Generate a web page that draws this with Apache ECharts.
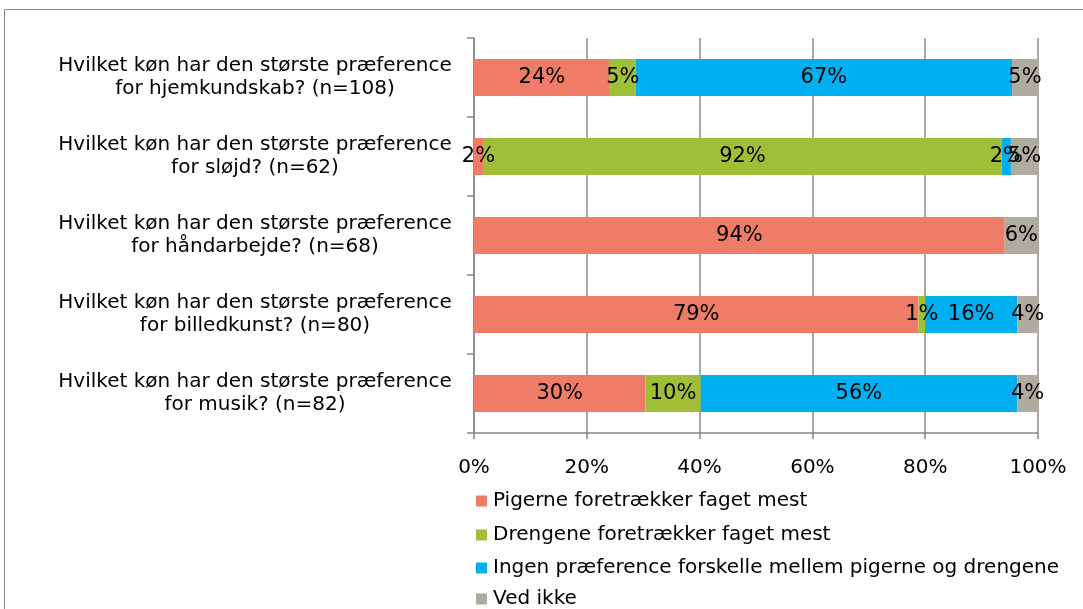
<!DOCTYPE html>
<html><head><meta charset="utf-8">
<script src="https://cdn.jsdelivr.net/npm/echarts@6/dist/echarts.min.js"></script>
<style>html,body{margin:0;padding:0;background:#fff}#c{width:1083px;height:609px}</style>
</head><body><div id="c"></div>
<script>
const categories = [
  "Hvilket køn har den største præference\nfor hjemkundskab? (n=108)",
  "Hvilket køn har den største præference\nfor sløjd? (n=62)",
  "Hvilket køn har den største præference\nfor håndarbejde? (n=68)",
  "Hvilket køn har den største præference\nfor billedkunst? (n=80)",
  "Hvilket køn har den største præference\nfor musik? (n=82)"
];
const seriesNames = [
  "Pigerne foretrækker faget mest",
  "Drengene foretrækker faget mest",
  "Ingen præference forskelle mellem pigerne og drengene",
  "Ved ikke"
];
const pigerne = [24.1, 1.6, 94.1, 78.8, 30.4];
const drengene = [4.6, 92.0, 0, 1.2, 9.8];
const ingen = [66.7, 1.6, 0, 16.3, 56.1];
const vedIkke = [4.6, 4.8, 5.9, 3.7, 3.7];
const xTicks = [0, 20, 40, 60, 80, 100];
const colors = ["#EE7C67", "#A0BF37", "#00B0F0", "#AFAC9F"];

const font = "DejaVu Sans";
const legendTops = [491, 525, 558, 589];
const chart = echarts.init(document.getElementById('c'));
const mk = (name, data, color) => ({
  name, type: 'bar', stack: 'total', data, barWidth: '47%',
  itemStyle: { color },
  label: {
    show: true, position: 'inside', color: '#000', fontFamily: font, fontSize: 21,
    formatter: p => p.value > 0 ? Math.round(p.value) + '%' : ''
  }
});
chart.setOption({
  animation: false,
  textStyle: { fontFamily: font },
  graphic: [{ type: 'rect', shape: { x: 4.5, y: 9.5, width: 1100, height: 700 },
    style: { fill: 'none', stroke: '#868686', lineWidth: 1 }, silent: true }],
  grid: { left: 474, right: 45, top: 38, bottom: 176 },
  xAxis: {
    type: 'value', min: 0, max: 100, interval: 20,
    axisLine: { show: true, lineStyle: { color: '#878787', width: 1.5 } },
    axisTick: { show: true, length: 6, lineStyle: { color: '#878787', width: 1.5 } },
    splitLine: { show: true, lineStyle: { color: '#8c8c8c', width: 1.5 } },
    axisLabel: { color: '#000', fontFamily: font, fontSize: 20, margin: 25,
      formatter: v => xTicks.includes(v) ? v + '%' : '' }
  },
  yAxis: {
    type: 'category', data: categories, inverse: true,
    axisLine: { show: true, lineStyle: { color: '#878787', width: 1.5 } },
    axisTick: { show: true, length: 7, lineStyle: { color: '#878787', width: 1.5 } },
    axisLabel: { color: '#000', fontFamily: font, margin: 21,
      formatter: v => v.split('\n').map(s => '{a|' + s + '}').join('\n'),
      rich: { a: { fontFamily: font, fontSize: 20, width: 396, align: 'center', lineHeight: 23, color: '#000' } }
    }
  },
  legend: seriesNames.map((n, i) => ({
    orient: 'vertical', left: 476, top: legendTops[i], padding: 0, itemWidth: 11, itemHeight: 11,
    icon: 'rect', textStyle: { color: '#000', fontFamily: font, fontSize: 20, padding: [0,0,0,1] },
    data: [n]
  })),
  series: [
    mk(seriesNames[0], pigerne, colors[0]),
    mk(seriesNames[1], drengene, colors[1]),
    mk(seriesNames[2], ingen, colors[2]),
    mk(seriesNames[3], vedIkke, colors[3])
  ]
});
</script></body></html>
